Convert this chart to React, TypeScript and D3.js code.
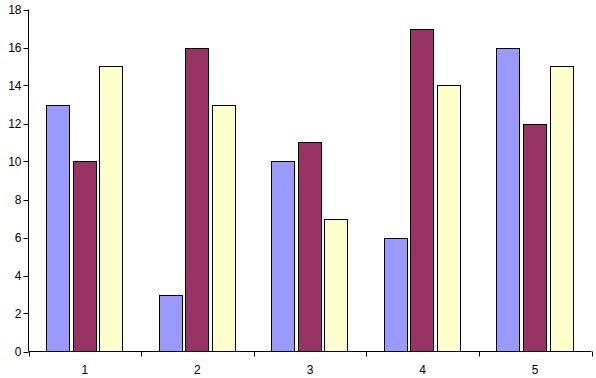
import React from "react";
import * as d3 from "d3";

const categories = ["1", "2", "3", "4", "5"];
const seriesNames = ["A", "B", "C"];
const seriesA = [13, 3, 10, 6, 16];
const seriesB = [10, 16, 11, 17, 12];
const seriesC = [15, 13, 7, 14, 15];
const yTicks = [0, 2, 4, 6, 8, 10, 12, 14, 16, 18];
const colors = ["#9999FF", "#993366", "#FFFFCC"];

const W = 596;
const H = 378;
const left = 28.5;
const right = 591.5;
const top = 9.5;
const bottom = 351.5;

export default function App() {
  const series = [seriesA, seriesB, seriesC];
  const x0 = d3.scaleBand<string>().domain(categories).range([left, right]).padding(0);
  const bw = x0.bandwidth();
  const x1 = d3
    .scaleBand<string>()
    .domain(seriesNames)
    .range([17.5, bw - 18.5])
    .paddingInner(0.12)
    .paddingOuter(0);
  const y = d3.scaleLinear().domain([0, 18]).range([bottom, top]);
  const boundaries = categories.map((c) => x0(c)!).concat([right]);
  const font = "Liberation Sans, Arial, sans-serif";

  return (
    <svg
      width={W}
      height={H}
      style={{ position: "absolute", left: 0, top: 0, background: "#fff" }}
    >
      {categories.map((c, i) =>
        series.map((s, j) => {
          const yt = Math.round(y(s[i])) + 0.5;
          return (
            <rect
              key={`${c}-${j}`}
              x={Math.round(x0(c)! + x1(seriesNames[j])!) + 0.5}
              y={yt}
              width={Math.round(x1.bandwidth())}
              height={bottom - yt}
              fill={colors[j]}
              stroke="#000"
              strokeWidth={1}
            />
          );
        })
      )}
      {/* y axis */}
      <line x1={left} x2={left} y1={top} y2={bottom} stroke="#000" />
      {yTicks.map((t) => (
        <g key={t}>
          <line x1={left - 5} x2={left} y1={Math.round(y(t)) + 0.5} y2={Math.round(y(t)) + 0.5} stroke="#000" />
          <text
            x={left - 7}
            y={y(t)}
            dy="0.35em"
            textAnchor="end"
            fontFamily={font}
            fontSize={12}
            fill="#000"
          >
            {t}
          </text>
        </g>
      ))}
      {/* x axis */}
      <line x1={left} x2={right} y1={bottom} y2={bottom} stroke="#000" />
      {boundaries.map((b, i) => (
        <line key={i} x1={Math.round(b) + 0.5} x2={Math.round(b) + 0.5} y1={bottom} y2={bottom + 5} stroke="#000" />
      ))}
      {categories.map((c) => (
        <text
          key={c}
          x={x0(c)! + bw / 2}
          y={370}
          dy="0.35em"
          textAnchor="middle"
          fontFamily={font}
          fontSize={12}
          fill="#000"
        >
          {c}
        </text>
      ))}
    </svg>
  );
}
